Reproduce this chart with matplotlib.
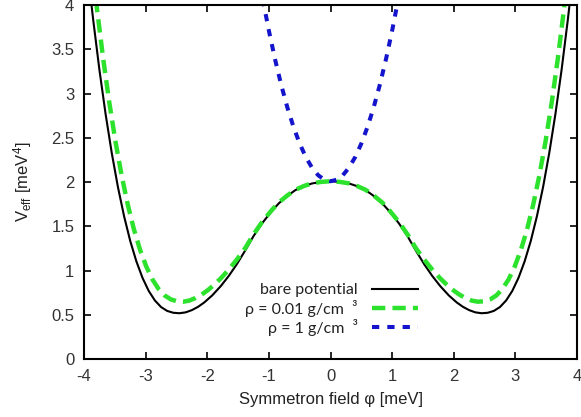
import matplotlib
matplotlib.use('Agg')
import matplotlib.pyplot as plt

# effective potential curves, V_eff in meV^4 against field in meV
# bare symmetron potential
bare_x = [-3.90, -3.85, -3.75, -3.65, -3.55, -3.45, -3.35, -3.25, -3.15, -3.05,
          -2.95, -2.85, -2.75, -2.65, -2.55, -2.45, -2.35, -2.25, -2.15, -2.05,
          -1.92, -1.78, -1.65, -1.52, -1.38, -1.25, -1.11, -0.97, -0.84, -0.70,
          -0.57, -0.43, -0.30, -0.15, 0.00,
          0.15, 0.30, 0.43, 0.57, 0.70, 0.84, 0.97, 1.11, 1.25, 1.38,
          1.52, 1.65, 1.78, 1.92, 2.05, 2.15, 2.25, 2.35, 2.45, 2.55,
          2.65, 2.75, 2.85, 2.95, 3.05, 3.15, 3.25, 3.35, 3.45, 3.55,
          3.65, 3.75, 3.85, 3.90]
bare_v = [4.130, 3.827, 3.268, 2.770, 2.330, 1.946, 1.616, 1.336, 1.105, 0.918,
          0.772, 0.664, 0.590, 0.546, 0.525, 0.520, 0.530, 0.555, 0.592, 0.641,
          0.721, 0.827, 0.942, 1.074, 1.233, 1.390, 1.535, 1.660, 1.760, 1.845,
          1.910, 1.955, 1.985, 2.003, 2.010,
          2.003, 1.985, 1.955, 1.910, 1.845, 1.760, 1.660, 1.535, 1.390, 1.233,
          1.074, 0.942, 0.827, 0.721, 0.641, 0.592, 0.555, 0.530, 0.520, 0.525,
          0.546, 0.590, 0.664, 0.772, 0.918, 1.105, 1.336, 1.616, 1.946, 2.330,
          2.770, 3.268, 3.827, 4.130]

# rho = 0.01 g/cm^3
low_x = [-3.84, -3.79, -3.69, -3.59, -3.49, -3.39, -3.29, -3.19, -3.09, -2.99,
         -2.89, -2.79, -2.69, -2.59, -2.49, -2.39, -2.29, -2.19, -2.09, -1.99,
         -1.89, -1.78, -1.65, -1.52, -1.38, -1.25, -1.11, -0.97, -0.84, -0.70,
         -0.57, -0.43, -0.30, -0.15, 0.00,
         0.15, 0.30, 0.43, 0.57, 0.70, 0.84, 0.97, 1.11, 1.25, 1.38,
         1.52, 1.65, 1.78, 1.89, 1.99, 2.09, 2.19, 2.29, 2.39, 2.49,
         2.59, 2.69, 2.79, 2.89, 2.99, 3.09, 3.19, 3.29, 3.39, 3.49,
         3.59, 3.69, 3.79, 3.84]
low_v = [4.260, 3.959, 3.400, 2.901, 2.461, 2.077, 1.747, 1.467, 1.235, 1.048,
         0.902, 0.794, 0.720, 0.676, 0.655, 0.650, 0.663, 0.692, 0.731, 0.781,
         0.840, 0.914, 1.014, 1.126, 1.260, 1.410, 1.550, 1.670, 1.770, 1.850,
         1.913, 1.957, 1.986, 2.003, 2.010,
         2.003, 1.986, 1.957, 1.913, 1.850, 1.770, 1.670, 1.550, 1.410, 1.260,
         1.126, 1.014, 0.914, 0.840, 0.781, 0.731, 0.692, 0.663, 0.650, 0.655,
         0.676, 0.720, 0.794, 0.902, 1.048, 1.235, 1.467, 1.747, 2.077, 2.461,
         2.901, 3.400, 3.959, 4.260]

# rho = 1 g/cm^3
high_x = [-1.10, -1.00, -0.90, -0.80, -0.70, -0.60, -0.50, -0.40, -0.30, -0.20,
          -0.10, 0.00, 0.10, 0.20, 0.30, 0.40, 0.50, 0.60, 0.70, 0.80,
          0.90, 1.00, 1.10]
high_v = [4.067, 3.710, 3.387, 3.098, 2.843, 2.622, 2.435, 2.282, 2.163, 2.078,
          2.027, 2.010, 2.027, 2.078, 2.163, 2.282, 2.435, 2.622, 2.843, 3.098,
          3.387, 3.710, 4.067]

x_ticks = [-4, -3, -2, -1, 0, 1, 2, 3, 4]
x_tick_labels = ['-4', '-3', '-2', '-1', '0', '1', '2', '3', '4']
y_ticks = [0, 0.5, 1, 1.5, 2, 2.5, 3, 3.5, 4]
y_tick_labels = ['0', '0.5', '1', '1.5', '2', '2.5', '3', '3.5', '4']

plt.rcParams['font.family'] = ['Liberation Sans', 'DejaVu Sans']
plt.rcParams['mathtext.fontset'] = 'custom'
plt.rcParams['mathtext.rm'] = 'Liberation Sans'
plt.rcParams['mathtext.it'] = 'Liberation Sans:italic'
plt.rcParams['axes.unicode_minus'] = False

fig = plt.figure(figsize=(5.81, 4.17), dpi=100)
ax = fig.add_axes([0.1446, 0.1384, 0.8485, 0.8496])

ax.plot(bare_x, bare_v, color='black', lw=1.5, label='bare potential')
ax.plot(low_x, low_v, color='#2de22d', lw=3.2, ls=(0, (3.0, 1.6)),
        label='ρ = 0.01 g/cm  ³')
ax.plot(high_x, high_v, color='#1414cc', lw=2.9, ls=(0, (1.8, 2.0)),
        label='ρ = 1 g/cm  ³')

ax.set_xlim(-4, 4)
ax.set_ylim(0, 4)
ax.set_xticks(x_ticks)
ax.set_xticklabels(x_tick_labels)
ax.set_yticks(y_ticks)
ax.set_yticklabels(y_tick_labels)
ax.tick_params(direction='in', top=True, right=True, length=5, width=1.2,
               pad=7, labelsize=12, labelcolor='#333333')
for s in ax.spines.values():
    s.set_linewidth(1.5)

ax.set_xlabel('Symmetron field φ [meV]', fontsize=12, labelpad=6, color='#222222')
ax.set_ylabel('V$_{\\rm eff}$ [meV$^4$]', fontsize=12, labelpad=12, color='#222222')

leg = ax.legend(loc='lower right', bbox_to_anchor=(0.678, 0.066), frameon=False,
                markerfirst=False, handlelength=2.9, handletextpad=0.9,
                labelspacing=0.15, borderpad=0, borderaxespad=0,
                prop={'family': ['Lato', 'DejaVu Sans'], 'size': 11.5})
for t in leg.get_texts():
    t.set_color('#222222')

fig.savefig('out.png', dpi=100)
